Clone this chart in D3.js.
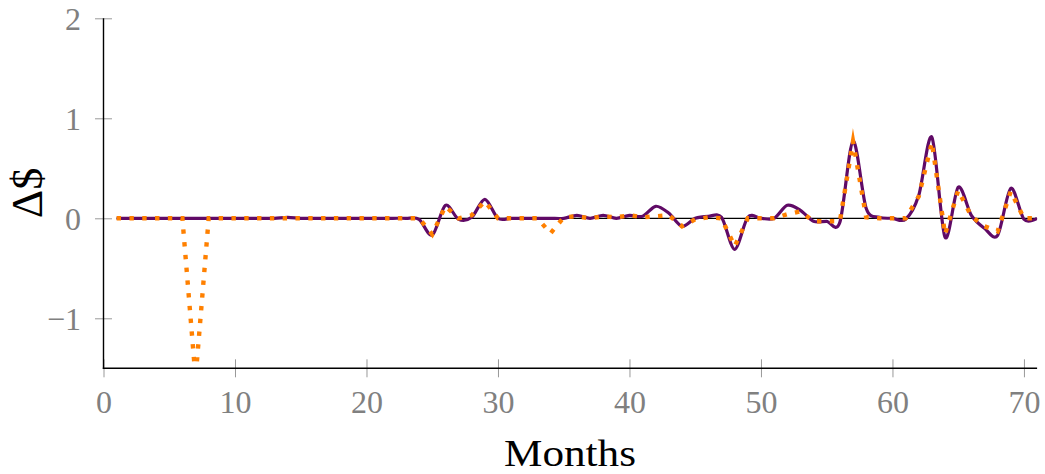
<!DOCTYPE html>
<html>
<head>
<meta charset="utf-8">
<script src="https://cdn.jsdelivr.net/npm/d3@7"></script>
<style>
  html, body { margin: 0; padding: 0; background: #fff; }
  svg { display: block; }
  text { font-family: "Liberation Serif", "DejaVu Serif", serif; }
</style>
</head>
<body>
<svg id="chart" width="1045" height="474"></svg>
<script>
// ---- data ----
const months = d3.range(1, 72);
const smoothSeries = [
  0, 0, 0, 0, 0, 0, 0, 0, 0, 0,            // 1-10
  0, 0, 0, 0.01, 0, 0, 0, 0, 0, 0,         // 11-20
  0, 0, 0, -0.01, -0.17, 0.13, -0.01, 0.01, 0.19, 0, // 21-30
  0, 0, 0, 0, 0, 0.03, 0, 0.03, 0, 0.03,   // 31-40
  0.02, 0.12, 0.05, -0.08, 0, 0.02, 0.01, -0.31, 0.01, 0, // 41-50
  0, 0.13, 0.08, -0.03, -0.03, -0.04, 0.77, 0.10, 0.01, 0, // 51-60
  -0.01, 0.23, 0.81, -0.19, 0.31, 0.03, -0.10, -0.17, 0.30, -0.01, // 61-70
  0                                         // 71
];
const dottedSeries = [
  0, 0, 0, 0, 0, 0, -1.6, 0, 0, 0,         // 1-10
  0, 0, 0, 0, 0, 0, 0, 0, 0, 0,            // 11-20
  0, 0, 0, 0, -0.16, 0.12, 0, 0.03, 0.17, 0, // 21-30
  0, 0, 0, -0.15, 0.01, 0.02, 0, 0.02, 0.01, 0.03, // 31-40
  0.01, 0.02, 0.03, -0.08, -0.01, 0.01, 0, -0.28, 0, 0, // 41-50
  0, 0.04, 0.07, -0.03, -0.03, -0.03, 0.77, 0.01, 0, 0, // 51-60
  0, 0.22, 0.76, -0.16, 0.28, 0.02, -0.08, -0.13, 0.27, 0, // 61-70
  0                                         // 71
];
const xTicks = [0, 10, 20, 30, 40, 50, 60, 70];
const yTicks = [-1, 0, 1, 2];
const xDomain = [0, 71];
const yDomain = [-1.5, 2];
const xLabel = "Months";
const yLabel = "Δ$";

// ---- layout ----
const svg = d3.select("#chart");
const mLeft = 103.5, mTop = 18.3, plotW = 933.6, plotH = 350;
const x = d3.scaleLinear().domain(xDomain).range([mLeft, mLeft + plotW]);
const y = d3.scaleLinear().domain(yDomain).range([mTop + plotH, mTop]);

svg.append("defs").append("clipPath").attr("id", "clip")
  .append("rect").attr("x", mLeft).attr("y", mTop).attr("width", plotW).attr("height", plotH);

// zero line
svg.append("line")
  .attr("x1", x(months[0])).attr("x2", x(months[months.length - 1]))
  .attr("y1", y(0)).attr("y2", y(0))
  .attr("stroke", "#000").attr("stroke-width", 1.2);

const g = svg.append("g").attr("clip-path", "url(#clip)");

const smoothLine = d3.line()
  .x((d, i) => x(months[i])).y(d => y(d))
  .curve(d3.curveCardinal.tension(0.1));
g.append("path").datum(smoothSeries)
  .attr("d", smoothLine)
  .attr("fill", "none").attr("stroke", "#600a66")
  .attr("stroke-width", 3.2).attr("stroke-linejoin", "round");

const dottedLine = d3.line()
  .x((d, i) => x(months[i])).y(d => y(d));
g.append("path").datum(dottedSeries)
  .attr("d", dottedLine)
  .attr("fill", "none").attr("stroke", "#ff8000")
  .attr("stroke-width", 4.4)
  .attr("stroke-dasharray", "4.4 8.4")
  .attr("stroke-linejoin", "miter").attr("stroke-miterlimit", 10);

// axes
const xAxis = d3.axisBottom(x).tickValues(xTicks).tickSize(0).tickFormat(d3.format("d"));
const yAxis = d3.axisLeft(y).tickValues(yTicks).tickSize(0)
  .tickFormat(d => d < 0 ? "\u2212" + Math.abs(d) : String(d));

const gx = svg.append("g").attr("transform", `translate(0,${mTop + plotH})`).call(xAxis);
gx.select(".domain").remove();
gx.selectAll(".tick text").attr("y", 45).attr("dy", null)
  .attr("font-size", 32).attr("fill", "#808080")
  .attr("font-family", "Liberation Serif");
gx.selectAll(".tick").append("line")
  .attr("y1", -9).attr("y2", 9).attr("stroke", "#999").attr("stroke-width", 1);

const gy = svg.append("g").attr("transform", `translate(${mLeft},0)`).call(yAxis);
gy.select(".domain").remove();
gy.selectAll(".tick text").attr("x", -22.5).attr("dy", 11)
  .attr("font-size", 32).attr("fill", "#808080")
  .attr("font-family", "Liberation Serif");
gy.selectAll(".tick").append("line")
  .attr("x1", -8.5).attr("x2", 8.5).attr("stroke", "#999").attr("stroke-width", 1);

// axis lines
svg.append("line").attr("x1", mLeft).attr("x2", mLeft)
  .attr("y1", mTop).attr("y2", mTop + plotH + 0.7)
  .attr("stroke", "#000").attr("stroke-width", 1.4);
svg.append("line").attr("x1", mLeft - 0.7).attr("x2", mLeft + plotW)
  .attr("y1", mTop + plotH).attr("y2", mTop + plotH)
  .attr("stroke", "#000").attr("stroke-width", 1.4);

// labels
svg.append("text").attr("x", 570).attr("y", 466)
  .attr("text-anchor", "middle").attr("font-size", 38)
  .attr("textLength", 132).attr("lengthAdjust", "spacingAndGlyphs")
  .attr("fill", "#000").text(xLabel);
svg.append("text")
  .attr("transform", "translate(42,193) rotate(-90)")
  .attr("text-anchor", "middle").attr("font-size", 44)
  .attr("fill", "#000").text(yLabel);
</script>
</body>
</html>
